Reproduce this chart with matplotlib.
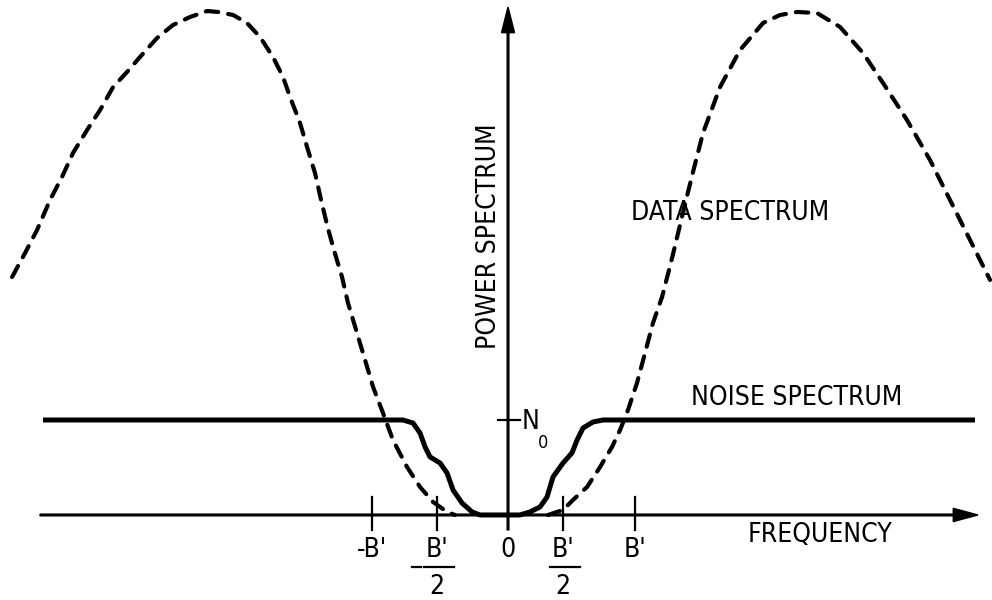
import matplotlib
matplotlib.use('Agg')
import matplotlib.pyplot as plt
from matplotlib import font_manager

# prefer a narrow face if one is installed
names = {f.name for f in font_manager.fontManager.ttflist}
narrow = [n for n in ['Liberation Sans Narrow', 'DejaVu Sans Condensed'] if n in names]
plt.rcParams['font.family'] = narrow + ['DejaVu Sans']
plt.rcParams['font.stretch'] = 'condensed'

# frequency in units of B', power in units of N0
data_left_f = [-3.815, -3.715, -3.623, -3.523, -3.431, -3.346, -3.238, -3.138, -3.038,
               -2.931, -2.831, -2.700, -2.577, -2.446, -2.315, -2.231, -2.115, -2.008,
               -1.908, -1.808, -1.731, -1.677, -1.600, -1.546, -1.485, -1.438, -1.392,
               -1.346, -1.277, -1.231, -1.162, -1.100, -1.038, -0.962, -0.885, -0.777,
               -0.677, -0.577, -0.469, -0.408]
data_left_p = [2.505, 2.758, 3.0, 3.316, 3.558, 3.811, 4.053, 4.263, 4.505,
               4.663, 4.821, 5.021, 5.158, 5.242, 5.305, 5.295, 5.263, 5.179,
               5.032, 4.821, 4.611, 4.4, 4.126, 3.874, 3.6, 3.316, 3.053,
               2.821, 2.505, 2.232, 1.916, 1.632, 1.347, 1.074, 0.789, 0.505,
               0.295, 0.137, 0.032, 0.0]

data_right_f = [0.308, 0.423, 0.5, 0.608, 0.708, 0.8, 0.862, 0.923, 0.992, 1.054, 1.115,
                1.185, 1.262, 1.338, 1.415, 1.5, 1.631, 1.785, 1.962, 2.092, 2.223,
                2.377, 2.554, 2.731, 2.885, 3.069, 3.246, 3.4, 3.554, 3.708]
data_right_p = [0.0, 0.053, 0.158, 0.295, 0.505, 0.716, 0.895, 1.105, 1.389, 1.705, 2.021,
                2.295, 2.705, 3.137, 3.568, 4.021, 4.505, 4.895, 5.179, 5.263, 5.295,
                5.284, 5.137, 4.863, 4.547, 4.158, 3.737, 3.316, 2.895, 2.474]

noise_f = [-3.577, -0.808, -0.731, -0.677, -0.638, -0.6, -0.523, -0.469, -0.423, -0.354,
           -0.277, -0.215, 0.092, 0.169, 0.246, 0.3, 0.346, 0.423, 0.492, 0.531, 0.577,
           0.654, 0.731, 3.592]
noise_p = [1.0, 1.0, 0.968, 0.863, 0.716, 0.611, 0.547, 0.442, 0.263, 0.126,
           0.032, 0.0, 0.0, 0.032, 0.084, 0.189, 0.4, 0.547, 0.653, 0.789, 0.916,
           0.979, 1.0, 1.0]

tick_pos = [-1.046, -0.546, 0.0, 0.423, 0.977]
tick_text = ["-B'", "B'", '0', "B'", "B'"]
N0 = 1.0

fig = plt.figure(figsize=(9.92, 6.0), dpi=100)
ax = fig.add_axes([0, 0, 1, 1])
ax.set_xlim(-3.908, 3.723)
ax.set_ylim(-0.895, 5.421)
ax.axis('off')

fs = 19

# axes with arrows
ax.arrow(-3.6, 0, 7.215, 0, width=0.018, head_width=0.14, head_length=0.19,
         length_includes_head=True, color='black')
ax.arrow(0, -0.158, 0, 5.505, width=0.013, head_width=0.1, head_length=0.27,
         length_includes_head=True, color='black')

# tick marks on frequency axis
for t in tick_pos:
    if t != 0:
        ax.plot([t, t], [0.19, -0.158], color='black', lw=1.6)
ax.plot([-0.077, 0.092], [N0, N0], color='black', lw=1.6)

# spectra
for f, p in [(data_left_f, data_left_p), (data_right_f, data_right_p)]:
    ax.plot(f, p, color='black', lw=3, dashes=(3.0, 2.4), dash_capstyle='round',
            dash_joinstyle='round')
ax.plot(noise_f, noise_p, color='black', lw=3.6, solid_joinstyle='round',
        solid_capstyle='butt')

# labels
ax.text(-0.146, 2.937, 'POWER SPECTRUM', rotation=90, ha='center', va='center', fontsize=fs)
ax.text(1.708, 3.179, 'DATA SPECTRUM', ha='center', va='center', fontsize=fs)
ax.text(2.223, 1.232, 'NOISE SPECTRUM', ha='center', va='center', fontsize=fs)
ax.text(2.4, -0.211, 'FREQUENCY', ha='center', va='center', fontsize=fs)
ax.text(0.108, 0.979, 'N', ha='left', va='center', fontsize=fs)
ax.text(0.27, 0.758, '0', ha='center', va='center', fontsize=13)

for t, s in zip(tick_pos, tick_text):
    ax.text(t, -0.368, s, ha='center', va='center', fontsize=fs)
for t in (tick_pos[1], tick_pos[3]):
    ax.plot([t - 0.10, t + 0.13], [-0.547, -0.547], color='black', lw=1.6)
    ax.text(t, -0.758, '2', ha='center', va='center', fontsize=fs)
ax.plot([tick_pos[1] - 0.19, tick_pos[1] - 0.12], [-0.547, -0.547], color='black', lw=1.6)

fig.savefig('out.png', dpi=100)
